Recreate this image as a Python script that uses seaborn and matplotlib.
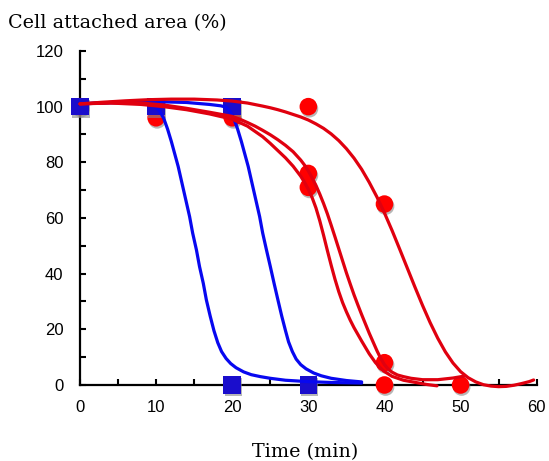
import matplotlib
matplotlib.use("Agg")
import matplotlib.pyplot as plt
import matplotlib.patheffects as pe
from matplotlib.ticker import MultipleLocator
import seaborn as sns

# measured points
blue_t = [0, 10, 20, 20, 30]
blue_v = [100, 100, 100, 0, 0]
red_t = [0, 10, 20, 30, 30, 30, 40, 40, 40, 50]
red_v = [100, 96, 96, 100, 76, 71, 65, 8, 0, 0]

# fitted curves
blue1_x = [0, 4, 8, 9, 9.5, 10, 10.5, 11, 11.5, 12, 12.5, 12.9, 13.4, 13.9, 14.4, 14.8, 15.3, 15.7,
           16.2, 16.6, 17.1, 17.6, 18.1, 18.6, 19.2, 19.8, 20.5, 21.5, 22.5, 23.7, 25, 27, 30, 33, 37]
blue1_y = [101, 101.5, 101.2, 100.9, 100.5, 99.8, 98.3, 95.8, 92, 87.5, 82.5, 78.5, 72.5, 66.5, 60.5, 54.6,
           48.5, 42.6, 36.5, 30.6, 24.8, 19.5, 15.2, 12, 9.5, 7.7, 6.2, 4.7, 3.7, 3, 2.4, 1.7, 1.2, 0.9, 0.7]

blue2_x = [0, 5, 10, 14, 17, 18.5, 19.2, 19.7, 20.2, 20.7, 21.2, 21.7, 22.1, 22.6, 23.1, 23.6, 24.0,
           24.5, 25.0, 25.5, 26.0, 26.5, 27.0, 27.4, 27.9, 28.4, 29.0, 29.7, 30.7, 31.7, 33, 35, 37]
blue2_y = [101, 101.5, 101.8, 101.5, 100.8, 100.3, 99.8, 98.3, 95.8, 92, 87.5, 82.5, 78.5, 72.5, 66.5, 60.5,
           54.6, 48.5, 42.6, 36.5, 30.6, 24.8, 19.5, 15.5, 12, 9.3, 7.3, 5.8, 4.3, 3.3, 2.4, 1.6, 1.1]

redA_x = [0, 3, 6, 9, 12, 15, 18, 20, 22, 24, 25, 26, 27, 28, 29, 30, 31, 32, 33, 34, 35, 36, 37,
          38, 39, 40, 41, 42, 43, 44, 45, 46, 47, 48, 49, 50, 51, 52, 53, 54, 55, 56, 57, 58, 59, 59.6]
redA_y = [101, 101.6, 102.1, 102.5, 102.7, 102.7, 102.4, 102, 101.3, 100.2, 99.6, 98.9, 98.1, 97.2, 96.3,
          95.2, 93.8, 92.2, 90.2, 87.8, 84.9, 81.5, 77.5, 72.8, 67.6, 61.8, 55.5, 48.8, 42, 35.2, 28.6,
          22.4, 16.8, 11.9, 7.9, 4.8, 2.6, 1.1, 0.1, -0.4, -0.6, -0.5, -0.1, 0.5, 1.2, 1.8]

redB_x = [0, 4, 8, 11, 14, 17, 20, 21, 22, 23, 24, 25, 26, 27, 28, 29, 29.5, 30, 30.5, 31, 31.5, 32,
          32.5, 33, 33.5, 34, 34.5, 35, 35.5, 36, 36.5, 37, 38, 39, 39.5, 40, 40.5, 41, 41.7, 42.5,
          43.5, 45, 47, 49, 50.5]
redB_y = [101, 101.4, 101.3, 100.6, 99.4, 98, 96.5, 95.5, 94.3, 93.0, 91.5, 89.9, 88.1, 86.1, 83.8,
          80.8, 79.0, 76.9, 74.4, 71.7, 68.6, 65.2, 61.5, 57.4, 53.2, 48.9, 44.6, 40.3, 36.3, 32.4,
          28.8, 25.3, 18.6, 12.4, 9.6, 7.3, 5.7, 4.6, 3.6, 3.0, 2.4, 1.9, 1.9, 2.5, 3.2]

redC_x = [0, 4, 8, 11, 14, 17, 20, 22, 24, 25, 26, 27, 28, 29, 29.5, 30, 30.5, 31, 31.5, 32, 32.5,
          33, 33.5, 34, 34.5, 35, 35.5, 36, 37, 38, 38.8, 39.4, 39.9, 41, 42.5, 44.3, 45.5, 46.9]
redC_y = [101, 101.3, 100.8, 100, 98.9, 97.4, 95.5, 93, 89.2, 86.8, 84.2, 81.6, 78.6, 75.0, 72.8, 70.3,
          67.3, 63.6, 59.0, 53.8, 48.3, 43.0, 38.0, 33.5, 29.6, 26.3, 23.3, 20.6, 15.8, 11.2, 8.1, 6.3,
          5.0, 3.1, 1.7, 0.8, 0.2, -0.3]

sns.set_style("ticks")
plt.rcParams["font.family"] = ["Liberation Sans", "DejaVu Sans"]
plt.rcParams["text.color"] = "black"
plt.rcParams["xtick.color"] = "black"
plt.rcParams["ytick.color"] = "black"

fig = plt.figure(figsize=(5.49, 4.61), dpi=100)
ax = fig.add_axes([0.1457, 0.1649, 0.8319, 0.7245])

shadow = [pe.SimplePatchShadow(offset=(0.8, -1.5), shadow_rgbFace="#888888", alpha=0.6), pe.Normal()]

sns.scatterplot(x=red_t, y=red_v, ax=ax, marker="o", s=160, color="#ff0000", linewidth=0,
                clip_on=False, zorder=3, path_effects=shadow)
sns.scatterplot(x=blue_t, y=blue_v, ax=ax, marker="s", s=160, color="#1a0dcc", linewidth=0,
                clip_on=False, zorder=4, path_effects=shadow)

for cx, cy in [(blue1_x, blue1_y), (blue2_x, blue2_y)]:
    sns.lineplot(x=cx, y=cy, ax=ax, sort=False, estimator=None, color="#0808f0", lw=2.3,
                 clip_on=False, zorder=5)
for cx, cy in [(redA_x, redA_y), (redB_x, redB_y), (redC_x, redC_y)]:
    sns.lineplot(x=cx, y=cy, ax=ax, sort=False, estimator=None, color="#e0000f", lw=2.3,
                 clip_on=False, zorder=6)

ax.set_xlim(0, 60)
ax.set_ylim(0, 120)
ax.xaxis.set_major_locator(MultipleLocator(10))
ax.xaxis.set_minor_locator(MultipleLocator(5))
ax.yaxis.set_major_locator(MultipleLocator(20))
ax.yaxis.set_minor_locator(MultipleLocator(10))
ax.tick_params(which="both", direction="in", length=4, width=1.5, color="black")
ax.tick_params(axis="y", which="major", labelsize=12, pad=12, labelcolor="black")
ax.tick_params(axis="x", which="major", labelsize=12, pad=11, labelcolor="black")
for s in ["top", "right"]:
    ax.spines[s].set_visible(False)
for s in ["left", "bottom"]:
    ax.spines[s].set_linewidth(1.6)
    ax.spines[s].set_color("black")
ax.set_xlabel("")
ax.set_ylabel("")

fig.text(8 / 549, 0.9386, "Cell attached area (%)", family="DejaVu Serif", fontsize=13.8,
         ha="left", va="baseline")
fig.text(0.5556, 0.0075, "Time (min)", family="DejaVu Serif", fontsize=13.8,
         ha="center", va="baseline")

fig.savefig("out.png", dpi=100)
